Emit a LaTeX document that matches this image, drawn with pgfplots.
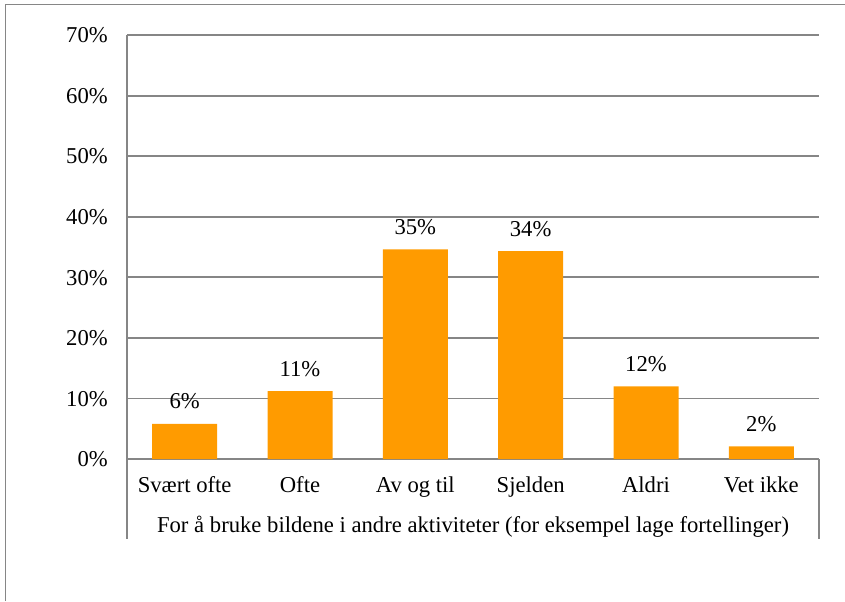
\documentclass[border=0pt]{standalone}
\usepackage{fontspec}
\setmainfont{Liberation Serif}
\usepackage{pgfplots}
\pgfplotsset{compat=1.18}
\definecolor{barorange}{RGB}{255,155,0}
\definecolor{gridgray}{RGB}{134,134,134}

\begin{document}
\begin{tikzpicture}[x=0.75pt,y=0.75pt,font=\fontsize{17}{20}\selectfont]
\path[use as bounding box] (0,0) rectangle (845,601);
% outer chart frame (partly cropped)
\draw[gridgray, line width=1.3pt] (5.5,0) -- (5.5,596.5) -- (845,596.5);
\begin{axis}[
  at={(95.25pt,106.5pt)}, anchor=south west,
  width=519pt, height=318pt, scale only axis,
  /pgf/number format/assume math mode=true,
  ymin=0, ymax=70, xmin=-0.5, xmax=5.5,
  ytick={0,10,...,70},
  yticklabel={\pgfmathprintnumber{\tick}\%},
  xtick=data,
  xticklabels={Svært ofte,Ofte,Av og til,Sjelden,Aldri,Vet ikke},
  major tick length=0pt,
  axis x line*=bottom, axis y line*=left,
  axis line style={gridgray, line width=1.4pt, -},
  ymajorgrids, grid style={gridgray, line width=1.4pt},
  yticklabel style={anchor=base east, inner sep=0pt, xshift=-14.25pt, yshift=-5.8pt},
  xticklabel style={anchor=base, inner sep=0pt, yshift=-25.3pt},
  ybar, bar width=48.75pt,
  nodes near coords={\pgfmathprintnumber[fixed,precision=0]{\pgfplotspointmeta}\%},
  every node near coord/.append style={anchor=base, inner sep=0pt, yshift=11.25pt, black},
]
\addplot[fill=barorange, draw=none] coordinates {
  (0,5.8) (1,11.2) (2,34.6) (3,34.3) (4,12.0) (5,2.1)};
\end{axis}
% multi-level category frame
\draw[gridgray, line width=1.4pt] (127,142) -- (127,62);
\draw[gridgray, line width=1.4pt] (819,142) -- (819,62);
\node[anchor=base, inner sep=0pt] at (473,68.3)
  {For å bruke bildene i andre aktiviteter (for eksempel lage fortellinger)};
\end{tikzpicture}
\end{document}
